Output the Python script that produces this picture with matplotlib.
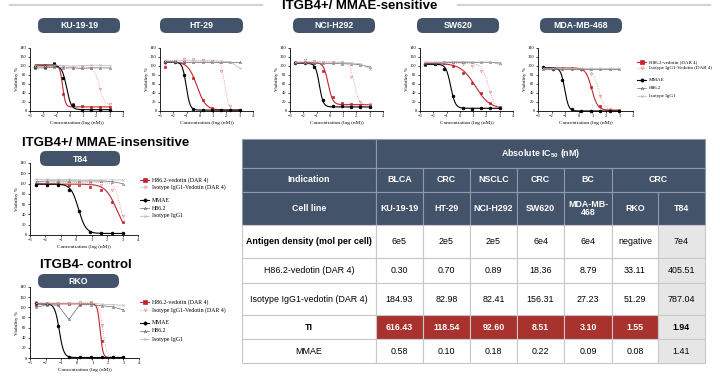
import matplotlib.pyplot as plt
import numpy as np
from matplotlib.patches import FancyBboxPatch, Rectangle

plt.rcParams['font.family'] = ['Liberation Sans', 'DejaVu Sans']
plt.rcParams['mathtext.default'] = 'regular'

W, H = 720, 382

# ---- dose-response data (log nM / viability %) ----
log_conc = [-2.6, -1.9, -1.2, -0.5, 0.2, 0.9, 1.6, 2.3, 3.0]
series_names = ["H86.2-vedotin (DAR 4)", "Isotype IgG1-Vedotin (DAR 4)",
                "MMAE", "H86.2", "Isotype IgG1"]

ku_ved = [97, 101, 105, 38, 15, 10, 9, 9, 9]
ku_isoved = [96, 99, 100, 96, 95, 96, 95, 48, 16]
ku_mmae = [98, 98, 104, 73, 14, 3, 3, 3, 3]
ku_h862 = [95, 95, 96, 95, 95, 94, 95, 95, 95]
ku_iso = [100, 99, 101, 100, 99, 100, 101, 101, 100]

ht_ved = [98, 108, 108, 72, 25, 7, 2, 2, 2]
ht_isoved = [103, 110, 115, 115, 112, 110, 89, 12, 2]
ht_mmae = [108, 108, 80, 5, 2, 2, 2, 2, 2]
ht_h862 = [108, 108, 108, 108, 108, 108, 108, 108, 108]
ht_iso = [110, 110, 111, 110, 110, 110, 110, 108, 95]

nci_ved = [107, 108, 105, 88, 30, 18, 15, 14, 13]
nci_isoved = [107, 112, 110, 107, 107, 107, 76, 20, 15]
nci_mmae = [105, 105, 98, 24, 10, 10, 9, 9, 8]
nci_h862 = [105, 105, 105, 105, 105, 104, 104, 102, 97]
nci_iso = [107, 108, 108, 108, 108, 107, 106, 104, 93]

sw_ved = [102, 104, 105, 100, 84, 62, 40, 18, 8]
sw_isoved = [103, 105, 108, 105, 103, 99, 88, 42, 8]
sw_mmae = [103, 103, 93, 33, 7, 5, 7, 7, 7]
sw_h862 = [106, 106, 107, 107, 107, 107, 107, 107, 106]
sw_iso = [108, 108, 108, 109, 109, 108, 108, 108, 103]

mda_ved = [97, 95, 95, 95, 92, 52, 12, 3, 2]
mda_isoved = [95, 93, 93, 93, 90, 82, 34, 5, 2]
mda_mmae = [97, 93, 68, 5, 0, 0, 0, 0, 0]
mda_h862 = [93, 93, 93, 93, 93, 93, 93, 93, 93]
mda_iso = [95, 95, 95, 95, 95, 95, 95, 95, 95]

t84_ved = [97, 98, 99, 97, 97, 93, 87, 65, 25]
t84_isoved = [100, 103, 102, 102, 100, 100, 97, 87, 37]
t84_mmae = [98, 98, 98, 88, 47, 5, 3, 3, 3]
t84_h862 = [104, 105, 105, 105, 105, 105, 105, 104, 100]
t84_iso = [108, 108, 108, 108, 107, 107, 107, 107, 107]

rko_ved = [105, 107, 107, 107, 107, 108, 34, 2, 1]
rko_isoved = [110, 108, 108, 108, 110, 110, 65, 2, 1]
rko_mmae = [108, 107, 63, 2, 1, 1, 1, 1, 1]
rko_h862 = [100, 105, 104, 76, 105, 105, 103, 101, 95]
rko_iso = [108, 107, 107, 107, 108, 108, 106, 105, 104]

# fitted curve shape: (top, bottom, hill) for vedotin, isotype-vedotin, MMAE
ku_fit = [(102, 9, 4.0), (97, 12, 2.2), (100, 3, 2.5)]
ht_fit = [(108, 2, 1.3), (112, 2, 3.0), (108, 2, 3.0)]
nci_fit = [(107, 14, 2.5), (108, 14, 2.5), (105, 9, 3.0)]
sw_fit = [(105, 5, 0.8), (105, 5, 1.8), (103, 6, 2.5)]
mda_fit = [(95, 2, 2.0), (93, 2, 2.0), (95, 0, 3.0)]
t84_fit = [(99, 0, 1.2), (102, 0, 2.2), (99, 3, 1.8)]
rko_fit = [(107, 1, 5.0), (109, 1, 3.5), (107, 1, 3.0)]

# ---- table data ----
indications = ["BLCA", "CRC", "NSCLC", "CRC", "BC", "CRC"]
cell_lines = ["KU-19-19", "HT-29", "NCI-H292", "SW620", "MDA-MB-\n468", "RKO", "T84"]
antigen_density = ["6e5", "2e5", "2e5", "6e4", "6e4", "negative", "7e4"]
ic50_vedotin = [0.30, 0.70, 0.89, 18.36, 8.79, 33.11, 405.51]
ic50_isotype_vedotin = [184.93, 82.98, 82.41, 156.31, 27.23, 51.29, 787.04]
therapeutic_index = [616.43, 118.54, 92.60, 8.51, 3.10, 1.55, 1.94]
ic50_mmae = [0.58, 0.10, 0.18, 0.22, 0.09, 0.08, 1.41]

SLATE = "#435369"
RED = "#a8322d"
serif = ['Liberation Serif', 'DejaVu Serif']

styles = [
    dict(color="#c0262d", marker="s", ms=2.0, lw=0.8, mfc="#c0262d"),
    dict(color="#e5868a", marker="v", ms=1.8, lw=0.6, mfc="none", mew=0.4),
    dict(color="black", marker="o", ms=2.0, lw=0.8, mfc="black"),
    dict(color="#666666", marker="^", ms=1.6, lw=0.5, mfc="none", mew=0.4),
    dict(color="#b5b5b5", marker="x", ms=1.6, lw=0.5, mew=0.4),
]

fig = plt.figure(figsize=(7.2, 3.82), dpi=100)
base = fig.add_axes([0, 0, 1, 1])
base.set_xlim(0, W)
base.set_ylim(H, 0)
base.axis('off')


def four_pl(x, top, bottom, hill, ic50):
    # place the curve so that it crosses 50 % at the absolute IC50 of the table
    x50 = np.log10(ic50)
    mid = x50 - np.log10((top - 50) / (50 - bottom)) / hill
    return bottom + (top - bottom) / (1 + 10 ** ((x - mid) * hill))


def pill(x0, x1, y0, y1, label):
    base.add_patch(FancyBboxPatch((x0, y0), x1 - x0, y1 - y0,
                                  boxstyle="round,pad=0,rounding_size=6",
                                  fc=SLATE, ec="none"))
    base.text((x0 + x1) / 2, (y0 + y1) / 2 + 0.5, label, color="white",
              fontsize=6.3, fontweight="bold", ha="center", va="center")


def panel(x0, x1, y0, y1, series, fits, col):
    ax = fig.add_axes([x0 / W, 1 - y1 / H, (x1 - x0) / W, (y1 - y0) / H])
    ax.patch.set_alpha(0)
    ax.set_xlim(-3, 4)
    ax.set_ylim(0, 140)
    xf = np.linspace(log_conc[0], log_conc[-1], 200)
    ic50s = [ic50_vedotin[col], ic50_isotype_vedotin[col], ic50_mmae[col]]
    for i, vals in enumerate(series):
        st = styles[i]
        if i < 3:
            top, bot, hill = fits[i]
            ax.plot(xf, four_pl(xf, top, bot, hill, ic50s[i]), color=st["color"],
                    lw=st["lw"], ls=":" if i == 1 else "-", clip_on=False)
            ax.plot(log_conc, vals, ls="none", marker=st["marker"], ms=st["ms"],
                    color=st["color"], mfc=st["mfc"], mew=st.get("mew", 0.5), clip_on=False)
        else:
            ax.plot(log_conc, vals, color=st["color"], lw=st["lw"], marker=st["marker"],
                    ms=st["ms"], mfc=st.get("mfc", st["color"]), mew=st["mew"], clip_on=False)
    ax.set_xticks(range(-3, 5))
    ax.set_yticks(range(0, 141, 20))
    for s in ["top", "right"]:
        ax.spines[s].set_visible(False)
    for s in ["left", "bottom"]:
        ax.spines[s].set_linewidth(0.6)
    ax.tick_params(length=1.5, width=0.5, pad=1, labelsize=3.2)
    for lab in ax.get_xticklabels() + ax.get_yticklabels():
        lab.set_family(serif)
    ax.set_ylabel("Viability %", fontsize=3.8, labelpad=1, family=serif)
    ax.set_xlabel("Concentration (log (nM))", fontsize=3.8, labelpad=1.5, family=serif)
    return ax


def legend_block(x, ys, fs):
    for i, (name, y) in enumerate(zip(series_names, ys)):
        st = styles[i]
        base.plot([x, x + 9], [y, y], color=st["color"], lw=st["lw"],
                  ls=":" if i == 1 else "-")
        base.plot([x + 4.5], [y], marker=st["marker"], ms=st["ms"] + 0.3,
                  color=st["color"], mfc=st.get("mfc", st["color"]), mew=st.get("mew", 0.5))
        base.text(x + 12, y, name, fontsize=fs, family=serif, va="center")


# ---- top section ----
base.plot([10, 262], [5, 5], color="#d4d4d4", lw=1.6)
base.plot([458, 710], [5, 5], color="#d4d4d4", lw=1.6)
base.text(360, 6, "ITGB4+/ MMAE-sensitive", ha="center", va="center",
          fontsize=9.5, fontweight="bold")

pill(38, 120, 18, 33, "KU-19-19")
pill(160, 243, 18, 33, "HT-29")
pill(293, 375, 18, 33, "NCI-H292")
pill(417, 499, 18, 33, "SW620")
pill(540, 622, 18, 33, "MDA-MB-468")

panel(30, 123, 47.5, 111, [ku_ved, ku_isoved, ku_mmae, ku_h862, ku_iso], ku_fit, 0)
panel(160, 253, 47.5, 111, [ht_ved, ht_isoved, ht_mmae, ht_h862, ht_iso], ht_fit, 1)
panel(290, 383, 47.5, 111, [nci_ved, nci_isoved, nci_mmae, nci_h862, nci_iso], nci_fit, 2)
panel(420, 513, 47.5, 111, [sw_ved, sw_isoved, sw_mmae, sw_h862, sw_iso], sw_fit, 3)
panel(538, 633, 47.5, 111, [mda_ved, mda_isoved, mda_mmae, mda_h862, mda_iso], mda_fit, 4)
legend_block(637, [62, 68, 80, 88, 96], 3.6)

# ---- middle-left: MMAE-insensitive ----
base.text(22, 143, "ITGB4+/ MMAE-insensitive", ha="left", va="center",
          fontsize=9.5, fontweight="bold")
pill(40, 120, 151, 166, "T84")
panel(30, 138, 163, 235, [t84_ved, t84_isoved, t84_mmae, t84_h862, t84_iso], t84_fit, 6)
legend_block(140, [180, 187, 200, 208, 216], 4.2)

# ---- bottom-left: control ----
base.text(86, 265, "ITGB4- control", ha="center", va="center",
          fontsize=9.5, fontweight="bold")
pill(38, 119, 274, 288, "RKO")
panel(30, 139, 287, 358, [rko_ved, rko_isoved, rko_mmae, rko_h862, rko_iso], rko_fit, 5)
legend_block(140, [302, 310, 323, 331, 339], 4.2)

# ---- table ----
col_edges = [242, 376, 423, 470, 517, 564, 612, 658, 705]
row_edges = [139, 168, 192, 225, 258, 283, 315, 339, 363]
FS = 6.4


def cell(c0, c1, r0, r1, text, fc="white", color="black", bold=False, ec="#c8c8c8"):
    x0, x1 = col_edges[c0], col_edges[c1]
    y0, y1 = row_edges[r0], row_edges[r1]
    base.add_patch(Rectangle((x0, y0), x1 - x0, y1 - y0, fc=fc, ec=ec, lw=0.8))
    if text:
        base.text((x0 + x1) / 2, (y0 + y1) / 2, text, ha="center", va="center",
                  fontsize=FS, color=color, fontweight="bold" if bold else "normal",
                  linespacing=0.95)


hdr_line = "#8e9aab"
cell(0, 1, 0, 1, "", fc=SLATE, ec=hdr_line)
cell(1, 8, 0, 1, "Absolute IC$_{50}$ (nM)", fc=SLATE, color="white", bold=True, ec=hdr_line)
cell(0, 1, 1, 2, "Indication", fc=SLATE, color="white", bold=True, ec=hdr_line)
for j, ind in enumerate(indications):
    span = 2 if j == len(indications) - 1 else 1
    cell(j + 1, j + 1 + span, 1, 2, ind, fc=SLATE, color="white", bold=True, ec=hdr_line)
cell(0, 1, 2, 3, "Cell line", fc=SLATE, color="white", bold=True, ec=hdr_line)
for j, cl in enumerate(cell_lines):
    cell(j + 1, j + 2, 2, 3, cl, fc=SLATE, color="white", bold=True, ec=hdr_line)

body = [
    ("Antigen density (mol per cell)", antigen_density, True),
    ("H86.2-vedotin (DAR 4)", [f"{v:.2f}" for v in ic50_vedotin], False),
    ("Isotype IgG1-vedotin (DAR 4)", [f"{v:.2f}" for v in ic50_isotype_vedotin], False),
    ("TI", [f"{v:.2f}" for v in therapeutic_index], True),
    ("MMAE", [f"{v:.2f}" for v in ic50_mmae], False),
]
for i, (label, vals, bold) in enumerate(body):
    r = i + 3
    cell(0, 1, r, r + 1, label, bold=bold)
    for j, v in enumerate(vals):
        last = j == len(vals) - 1
        if label == "TI" and not last:
            cell(j + 1, j + 2, r, r + 1, v, fc=RED, color="white", bold=True)
        elif last:
            cell(j + 1, j + 2, r, r + 1, v, fc="#e6e6e6", bold=(label == "TI"))
        else:
            cell(j + 1, j + 2, r, r + 1, v)

fig.savefig("out.png", dpi=100)
